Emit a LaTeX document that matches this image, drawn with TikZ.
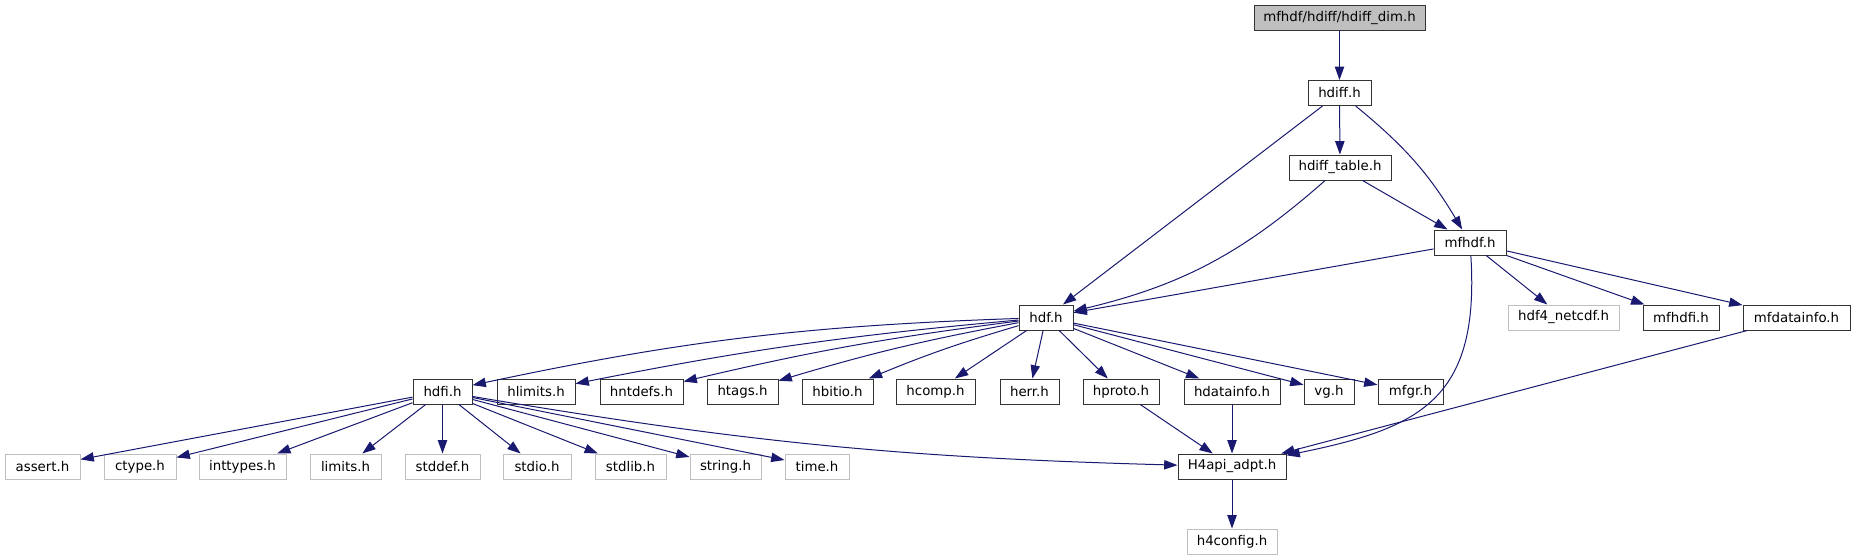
\documentclass[tikz,border=0pt]{standalone}
\usepackage{fontspec}
\setmainfont{DejaVu Sans}
\usetikzlibrary{arrows.meta}
\definecolor{edgeblue}{HTML}{191970}

\begin{document}
\begin{tikzpicture}[
  x=0.75pt, y=0.75pt,
  font=\fontsize{10}{12}\selectfont,
  hdr/.style={
    draw, rectangle, fill=white, inner sep=0pt,
    minimum height=18.75pt, line width=0.75pt
  },
  boxw/.style={minimum width=#1*0.75pt},
  doc/.style={hdr, draw=black!80},
  sys/.style={hdr, draw=black!25},
  root/.style={hdr, draw=black!80, fill=black!25},
  edge/.style={
    draw=edgeblue, line width=0.75pt,
    -{Triangle[length=10pt, width=7pt]}
  },
]
\useasboundingbox (0,0) rectangle (1856,-560);

% =========================== top of the graph =============================
\node[root, boxw=171] (dim)   at (1339.5, -18.5)  {mfhdf/hdiff/hdiff\_dim.h};
\node[doc, boxw=63]   (hdiff) at (1339.5, -93)    {hdiff.h};
\node[doc, boxw=102]  (tbl)   at (1340,   -167.5) {hdiff\_table.h};
\node[doc, boxw=72]   (mfhdf) at (1470,   -242.5) {mfhdf.h};

% row under mfhdf.h
\node[doc, boxw=54]   (hdf)    at (1046,   -317.5) {hdf.h};
\node[sys, boxw=111]  (netcdf) at (1563.5, -317.5) {hdf4\_netcdf.h};
\node[doc, boxw=76]   (mfhdfi) at (1681,   -317.5) {mfhdfi.h};
\node[doc, boxw=107]  (mfdi)   at (1796.5, -317.5) {mfdatainfo.h};

% headers pulled in by hdf.h
\foreach \n/\x/\w in {
  hdfi/442.5/59, hlimits/536/78, hntdefs/641.5/83, htags/742.5/71,
  hbitio/837.5/71, hcomp/935.5/79, herr/1029.5/59, hproto/1121/76,
  hdatainfo/1232/96, vg/1329/50, mfgr/1410.5/65
}{
  \node[doc, boxw=\w] (\n) at (\x, -391.5) {\n.h};
}

% system headers pulled in by hdfi.h
\foreach \n/\x/\w in {
  assert/42.5/75, ctype/140/72, inttypes/242.5/87, limits/345.5/71,
  stddef/442.5/75, stdio/537/68, stdlib/630.5/71, string/725.5/71,
  time/817/64
}{
  \node[sys, boxw=\w] (\n) at (\x, -466.5) {\n.h};
}

\node[doc, boxw=108] (api)  at (1232, -466.5) {H4api\_adpt.h};
\node[sys, boxw=90]  (conf) at (1232, -541.5) {h4config.h};

% =========================== the includes =================================
\draw[edge] (dim) -- (hdiff);
\draw[edge] (hdiff) -- (tbl);
\draw[edge] (hdiff) -- (hdf);
\draw[edge] (hdiff) to[bend left=10] (mfhdf);
\draw[edge] (tbl) to[bend left=14] (hdf);
\draw[edge] (tbl) -- (mfhdf);

\draw[edge] (mfhdf) -- (hdf);
\draw[edge] (mfhdf) .. controls (1480, -400) and (1420, -428) .. (api);
\foreach \n in {netcdf, mfhdfi, mfdi}{
  \draw[edge] (mfhdf) -- (\n);
}
\draw[edge] (mfdi) -- (api);

\draw[edge] (hdf) to[bend right=5] (hdfi);
\foreach \n in {hlimits, hntdefs, htags, hbitio}{
  \draw[edge] (hdf) to[bend right=3] (\n);
}
\foreach \n in {hcomp, herr, hproto, hdatainfo, vg, mfgr}{
  \draw[edge] (hdf) -- (\n);
}

\foreach \n in {assert, ctype, inttypes, limits, stddef, stdio,
                stdlib, string, time}{
  \draw[edge] (hdfi) -- (\n);
}
\draw[edge] (hdfi) to[bend right=4] (api);

\draw[edge] (hproto) -- (api);
\draw[edge] (hdatainfo) -- (api);
\draw[edge] (api) -- (conf);

\end{tikzpicture}
\end{document}
